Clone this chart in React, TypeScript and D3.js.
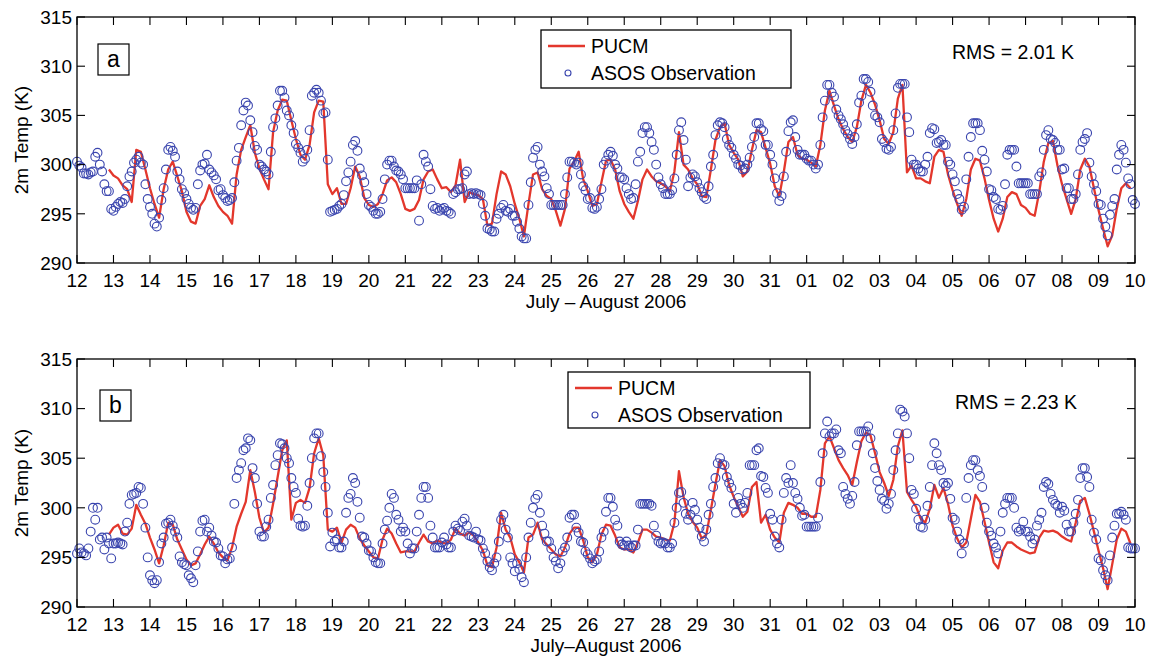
import React from 'react'
import * as d3 from 'd3'

// day tick labels, July 12 .. August 10
const dayLabels = [
  '12', '13', '14', '15', '16', '17', '18', '19', '20', '21',
  '22', '23', '24', '25', '26', '27', '28', '29', '30', '31',
  '01', '02', '03', '04', '05', '06', '07', '08', '09', '10',
]
const tempTicks = [290, 295, 300, 305, 310, 315]

// PUCM: 3-hourly samples from July 12 00 UTC (one row per day)
const pucmA: (number | null)[] = [
  null, null, null, null, null, null, null, 299.5,
  298.9, 298.6, 297.9, 297.5, 296.2, 301.5, 301.3, 299.5,
  297.6, 296.0, 294.6, 297.5, 299.5, 300.3, 298.8, 297.3,
  295.2, 294.2, 294.0, 295.8, 296.5, 297.9, 296.7, 295.8,
  295.2, 294.8, 294.0, 299.0, 301.5, 302.8, 304.0, 301.2,
  299.6, 298.5, 297.5, 303.3, 305.5, 306.6, 306.5, 304.5,
  302.6, 301.0, 300.5, 302.0, 305.3, 306.5, 306.4, 298.0,
  297.0, 297.6, 296.0, 296.0, 297.6, 299.8, 298.8, 296.6,
  295.9, 295.7, 296.0, 297.0, 298.4, 298.7, 298.2, 297.0,
  295.5, 295.3, 295.5, 296.4, 298.5, 299.3, 299.5, 298.5,
  297.6, 297.7, 297.2, 297.9, 300.5, 296.2, 297.2, 297.0,
  296.9, 296.5, 293.8, 294.0, 297.0, 299.3, 299.0, 297.8,
  296.0, 294.5, 292.7, 296.0, 299.0, 299.2, 297.5, 296.8,
  296.5, 295.3, 293.8, 295.5, 299.6, 300.3, 301.3, 298.5,
  297.3, 295.8, 296.0, 298.2, 300.4, 300.5, 299.5, 297.3,
  296.0, 295.2, 294.5, 296.3, 298.5, 299.5, 298.8, 298.3,
  298.1, 297.8, 297.3, 299.3, 303.3, 300.0, 299.5, 298.6,
  298.0, 296.8, 296.7, 299.5, 302.5, 303.8, 304.2, 302.0,
  301.2, 300.5, 298.8, 299.3, 301.5, 303.5, 303.3, 301.7,
  300.1, 297.8, 296.8, 299.3, 302.3, 302.8, 301.0, 300.6,
  300.5, 300.2, 299.8, 302.0, 305.5, 307.5, 306.0, 304.6,
  303.6, 302.8, 302.3, 303.8, 306.5, 308.1, 307.3, 306.1,
  304.5, 302.6, 302.1, 303.3, 306.7, 308.1, 299.2, 299.9,
  298.6, 298.6, 298.3, 298.1, 300.8, 301.5, 301.3, 299.0,
  297.4, 296.0, 294.8, 296.5, 299.5, 300.6, 300.4, 298.6,
  296.4, 294.5, 293.2, 294.5, 296.7, 297.2, 297.0, 295.9,
  295.6, 295.0, 294.8, 297.2, 300.3, 302.2, 302.4, 299.9,
  298.0, 296.5, 295.0, 296.5, 299.5, 300.6, 299.8, 297.6,
  295.4, 293.5, 291.7, 292.8, 295.5, 297.6, 298.1, 297.6,
  null,
]

// ASOS: 90-minute samples from July 12 00 UTC (one row per day)
const asosA: number[] = [
  300.3, 299.9, 299.7, 299.1, 299.1, 299.0, 299.2, 299.3, 300.8, 301.2, 300.0, 299.3, 298.0, 297.3, 297.3, 295.5,
  295.3, 295.7, 296.0, 296.2, 296.1, 296.5, 297.8, 298.8, 299.3, 300.2, 300.5, 300.8, 300.2, 300.0, 298.0, 296.5,
  295.7, 295.0, 294.0, 293.7, 294.6, 296.4, 297.6, 299.5, 301.5, 301.8, 301.4, 300.8, 299.3, 298.5, 297.5, 297.1,
  296.5, 296.0, 295.6, 295.4, 295.6, 298.0, 299.4, 300.0, 300.1, 301.0, 299.5, 299.2, 298.9, 298.5, 297.4, 297.5,
  296.9, 296.6, 296.3, 296.4, 296.6, 298.2, 300.4, 301.7, 304.0, 305.5, 306.3, 306.0, 304.5, 303.3, 301.9, 301.5,
  300.0, 299.8, 299.5, 299.3, 299.0, 301.3, 303.8, 304.7, 306.0, 307.5, 307.5, 306.8, 305.5, 305.0, 304.0, 303.2,
  302.1, 301.7, 301.2, 300.3, 300.6, 301.5, 303.5, 307.0, 307.3, 307.6, 307.3, 306.5, 305.2, 305.3, 300.5, 295.2,
  295.3, 295.4, 295.5, 295.8, 296.0, 296.9, 298.3, 299.2, 300.3, 302.0, 302.4, 301.4, 299.6, 298.9, 298.2, 297.0,
  295.9, 295.7, 295.3, 295.0, 295.0, 295.2, 296.5, 298.5, 300.0, 300.4, 300.4, 299.8, 299.4, 299.3, 299.0, 298.5,
  297.6, 297.6, 297.6, 297.6, 297.6, 298.4, 294.3, 298.0, 301.0, 300.3, 299.8, 297.5, 295.8, 295.5, 295.6, 295.3,
  295.5, 295.6, 295.3, 295.2, 295.0, 297.0, 297.2, 297.5, 297.5, 297.6, 299.0, 299.3, 297.0, 297.1, 297.0, 297.1,
  297.0, 296.9, 296.0, 294.8, 293.5, 293.4, 293.2, 293.2, 294.5, 295.0, 295.6, 295.9, 295.3, 295.2, 295.5, 294.8,
  294.8, 294.2, 293.5, 292.7, 292.5, 292.5, 295.9, 298.2, 300.7, 301.5, 301.8, 300.0, 299.3, 298.8, 297.6, 297.0,
  295.9, 295.9, 295.9, 295.9, 295.9, 295.9, 297.0, 298.7, 300.3, 300.3, 300.2, 300.0, 300.2, 299.0, 297.8, 297.4,
  296.5, 296.6, 295.6, 295.5, 295.7, 296.5, 297.5, 300.0, 300.4, 301.0, 301.3, 300.9, 300.0, 299.6, 298.7, 298.7,
  298.5, 297.6, 297.0, 296.5, 296.6, 298.0, 300.3, 301.3, 303.2, 303.8, 303.8, 303.2, 302.3, 301.5, 300.0, 298.7,
  298.0, 297.6, 297.0, 297.0, 297.0, 297.4, 298.6, 301.0, 303.5, 304.3, 302.5, 300.5, 297.8, 298.7, 299.0, 298.8,
  298.2, 297.6, 297.2, 296.7, 296.5, 297.8, 299.8, 301.0, 303.0, 304.0, 304.3, 304.2, 303.8, 302.6, 302.0, 301.7,
  301.0, 300.6, 300.0, 299.9, 299.5, 299.6, 300.0, 300.7, 301.8, 302.8, 304.2, 304.2, 303.6, 303.4, 302.0, 302.0,
  301.0, 300.0, 298.6, 297.1, 296.3, 296.8, 298.8, 301.3, 303.4, 304.3, 304.5, 302.8, 301.5, 301.0, 301.0, 301.0,
  300.6, 300.4, 300.4, 300.0, 299.6, 300.0, 302.0, 304.8, 306.5, 308.1, 308.1, 307.3, 306.9, 305.6, 305.0, 304.6,
  304.1, 303.5, 303.1, 302.6, 302.1, 302.8, 304.1, 306.3, 307.0, 308.7, 308.7, 308.4, 307.4, 306.0, 305.0, 304.8,
  304.3, 302.6, 302.3, 301.6, 301.5, 301.8, 303.5, 305.2, 307.8, 308.2, 308.2, 308.2, 304.8, 303.3, 300.5, 300.0,
  300.0, 299.6, 299.3, 299.3, 300.0, 300.8, 303.2, 303.7, 303.6, 302.2, 302.3, 302.5, 302.0, 302.0, 300.3, 300.0,
  299.0, 298.3, 297.0, 296.5, 295.4, 295.7, 298.5, 300.8, 302.8, 304.2, 304.2, 304.2, 303.5, 301.4, 300.5, 299.3,
  297.5, 297.4, 296.7, 296.5, 295.5, 295.4, 295.8, 298.0, 301.0, 301.5, 301.5, 301.5, 299.8, 298.1, 298.1, 298.1,
  298.1, 298.1, 297.0, 297.0, 297.0, 297.0, 298.8, 299.2, 301.5, 303.0, 303.5, 302.6, 302.5, 302.2, 301.5, 301.5,
  299.5, 299.6, 297.6, 297.6, 296.5, 296.5, 297.0, 299.0, 301.5, 302.3, 302.6, 303.2, 300.2, 298.8, 298.0, 297.3,
  296.0, 295.9, 294.5, 293.7, 292.8, 294.9, 295.8, 296.5, 299.5, 301.0, 302.0, 301.5, 300.2, 298.6, 298.0, 296.4,
  296.0,
]

const pucmB: (number | null)[] = [
  null, null, null, null, null, null, null, 297.3,
  298.0, 298.3, 297.4, 297.3, 297.9, 300.3, 299.3, 298.4,
  297.0, 295.8, 294.4, 296.2, 298.5, 298.3, 296.8, 295.8,
  294.8, 294.2, 294.4, 295.3, 296.3, 297.1, 296.4, 295.5,
  295.0, 294.7, 296.0, 298.1, 299.4, 300.6, 303.8, 301.6,
  299.0, 297.5, 298.0, 300.4, 303.1, 305.8, 306.8, 298.8,
  300.5, 300.8, 300.5, 302.0, 305.5, 307.0, 305.3, 297.8,
  297.6, 298.0, 296.5, 297.8, 298.3, 298.0, 296.9, 296.2,
  295.6, 295.0, 294.9, 296.8, 297.9, 297.4, 296.4, 295.5,
  295.6, 295.6, 295.6, 296.5, 297.3, 296.6, 296.4, 296.7,
  296.5, 296.4, 296.8, 297.9, 297.4, 297.2, 297.5, 297.2,
  296.5, 295.7, 294.2, 294.0, 296.0, 299.5, 297.8, 297.0,
  295.3, 294.5, 293.5, 297.0, 297.3, 298.5, 296.8, 296.3,
  295.8, 295.3, 295.1, 296.0, 297.4, 298.0, 298.0, 296.7,
  295.0, 294.5, 295.3, 297.3, 298.3, 298.2, 297.2, 296.0,
  295.8, 295.8, 295.5, 296.5, 297.8, 297.8, 297.5, 297.1,
  297.0, 296.8, 296.7, 298.5, 303.7, 301.1, 299.4, 298.6,
  298.0, 296.9, 297.3, 299.8, 302.4, 304.8, 304.2, 302.3,
  301.1, 300.1, 299.1, 299.6, 302.1, 302.6, 298.5, 299.3,
  297.8, 297.0, 296.5, 299.5, 300.5, 300.3, 300.0, 299.4,
  299.4, 299.1, 299.1, 301.8, 306.5, 307.2, 306.0, 304.8,
  304.0, 303.3, 302.3, 304.6, 306.7, 307.6, 307.3, 305.5,
  303.6, 302.5, 301.2, 302.8, 306.2, 307.8, 301.6, 300.8,
  300.1, 298.9, 298.5, 299.9, 302.3, 301.0, 302.0, 300.4,
  298.2, 296.9, 296.0, 296.5, 298.9, 301.3, 300.6, 298.6,
  296.5, 294.5, 293.9, 295.7, 296.5, 296.5, 296.1, 295.8,
  295.6, 295.4, 295.5, 297.0, 297.7, 297.6, 297.7, 297.5,
  297.1, 296.8, 296.6, 298.5, 300.7, 301.0, 299.4, 297.6,
  295.7, 293.9, 291.8, 294.3, 296.8, 297.9, 297.6, 296.4,
  null,
]

const asosB: number[] = [
  295.4, 295.9, 295.5, 295.4, 295.2, 295.9, 297.6, 300.0, 298.8, 300.0, 296.8, 297.0, 295.8, 297.0, 296.4, 294.9,
  296.4, 296.4, 296.5, 296.4, 296.3, 297.6, 298.5, 300.4, 301.3, 301.4, 301.5, 302.1, 302.0, 300.4, 298.0, 295.0,
  293.2, 292.7, 292.4, 292.7, 294.5, 296.4, 297.0, 298.4, 298.5, 298.8, 298.2, 297.6, 297.0, 295.1, 294.5, 294.3,
  294.2, 293.2, 292.9, 292.5, 294.2, 295.6, 297.6, 298.7, 298.8, 297.6, 298.0, 297.2, 296.6, 296.5, 295.9, 295.2,
  295.1, 294.4, 294.8, 294.9, 296.0, 300.4, 303.0, 303.8, 304.5, 305.8, 306.0, 307.0, 306.8, 304.0, 303.0, 300.4,
  297.6, 297.1, 297.1, 298.1, 298.8, 301.0, 302.3, 304.3, 305.3, 306.5, 306.4, 306.0, 305.0, 304.5, 303.0, 302.1,
  301.5, 298.9, 298.2, 298.1, 298.2, 300.2, 302.5, 305.0, 307.0, 307.5, 307.5, 305.2, 303.6, 302.1, 299.5, 296.1,
  297.5, 296.6, 296.8, 296.0, 296.0, 296.6, 299.5, 301.0, 301.4, 303.0, 302.5, 300.6, 299.0, 297.1, 297.0, 296.4,
  295.7, 295.6, 295.0, 294.5, 294.4, 294.4, 296.4, 297.8, 298.7, 300.0, 301.4, 301.0, 299.3, 298.8, 297.6, 298.0,
  297.6, 296.4, 295.4, 295.9, 295.9, 297.6, 299.3, 301.0, 302.1, 302.1, 301.0, 298.2, 297.0, 296.0, 296.0, 296.0,
  296.5, 297.0, 296.3, 296.0, 296.0, 297.6, 298.2, 297.9, 297.7, 298.6, 298.9, 298.2, 297.2, 297.1, 297.0, 297.6,
  296.8, 296.7, 295.9, 295.4, 294.6, 294.0, 293.7, 294.4, 295.0, 296.6, 298.8, 299.3, 297.8, 297.0, 295.0, 294.4,
  293.6, 294.4, 293.8, 293.0, 292.5, 295.0, 297.0, 298.5, 300.0, 300.9, 301.3, 299.5, 298.2, 297.4, 296.6, 296.6,
  295.9, 295.0, 294.6, 293.9, 294.4, 295.6, 296.0, 297.0, 299.0, 299.3, 299.3, 298.0, 297.5, 296.6, 296.5, 295.6,
  295.3, 294.9, 294.4, 294.6, 294.8, 295.6, 297.0, 297.6, 299.6, 301.0, 301.0, 300.1, 298.8, 298.2, 296.6, 296.3,
  296.2, 296.6, 296.2, 296.0, 296.2, 296.2, 297.8, 300.4, 300.4, 300.4, 300.4, 300.4, 300.2, 298.2, 297.2, 296.6,
  296.4, 296.5, 296.4, 296.0, 296.0, 296.4, 298.5, 300.0, 301.5, 301.6, 300.5, 299.4, 298.8, 299.3, 300.5, 299.8,
  298.8, 298.0, 297.1, 296.6, 297.8, 299.3, 300.4, 302.1, 303.0, 304.5, 305.0, 304.4, 304.3, 303.1, 302.5, 302.0,
  300.4, 299.5, 301.0, 300.4, 300.0, 300.5, 301.5, 304.3, 304.3, 304.3, 305.8, 306.0, 303.2, 303.1, 302.0, 301.5,
  299.4, 298.8, 297.1, 296.4, 296.0, 298.8, 301.5, 303.0, 302.5, 304.3, 302.5, 301.5, 300.9, 300.0, 299.2, 299.3,
  298.1, 298.1, 298.1, 298.1, 298.1, 299.0, 302.6, 305.5, 307.5, 308.7, 307.2, 307.5, 307.5, 307.9, 305.8, 305.5,
  302.1, 301.4, 300.9, 300.4, 301.2, 302.6, 306.3, 307.7, 307.7, 307.7, 307.7, 308.2, 307.0, 305.5, 304.0, 302.7,
  301.8, 300.9, 300.7, 299.9, 300.4, 301.4, 303.8, 305.8, 307.5, 309.9, 309.7, 309.2, 307.5, 305.0, 301.8, 301.4,
  299.9, 298.8, 298.1, 298.0, 298.8, 300.2, 302.1, 304.3, 306.5, 305.5, 304.3, 303.8, 302.5, 302.2, 302.5, 300.9,
  299.0, 298.8, 297.6, 296.8, 295.4, 296.4, 301.0, 303.0, 304.3, 304.8, 304.8, 303.8, 303.2, 302.1, 300.0, 298.5,
  297.6, 297.2, 296.4, 296.0, 295.4, 297.6, 299.5, 300.4, 301.0, 301.0, 301.0, 300.0, 298.0, 297.6, 297.8, 298.6,
  297.6, 297.6, 297.1, 296.4, 296.8, 298.2, 298.8, 299.5, 302.1, 302.6, 302.4, 301.4, 300.8, 300.4, 300.2, 299.5,
  300.1, 299.7, 298.3, 297.6, 297.6, 298.5, 299.4, 300.8, 303.0, 304.0, 304.0, 303.1, 302.1, 298.8, 297.5, 296.8,
  294.9, 294.7, 293.7, 293.2, 292.7, 295.2, 297.0, 298.2, 299.4, 299.4, 299.6, 299.3, 298.8, 296.0, 295.9, 295.9,
  295.9,
]

const FONT = '"Liberation Sans", Arial, Helvetica, sans-serif'
const RED = '#e3372c'
const BLUE = '#3a45ae'
const X0 = 77
const X1 = 1135

function Panel(props: any) {
  const { top, bottom, model, obs, tag, tagX, tagY, rms, rmsX, rmsY, xLabel, xLabelY, leg } = props
  const x = d3.scaleLinear().domain([12, 41]).range([X0, X1])
  const y = d3.scaleLinear().domain([290, 315]).range([bottom, top])
  const line = d3.line<number | null>()
    .defined(d => d != null)
    .x((d, i) => x(12 + i / 8))
    .y(d => y(d as number))
  const days = d3.range(12, 42)
  const tk = 8

  return (
    <g fontFamily={FONT}>
      <path d={line(model) || ''} fill="none" stroke={RED} strokeWidth={2.3} strokeLinejoin="round" />
      {obs.map((v: number, i: number) => (
        <circle key={i} cx={x(12 + i / 16)} cy={y(v)} r={4.4} fill="none" stroke={BLUE} strokeWidth={1.1} />
      ))}

      {/* frame and ticks */}
      <rect x={X0} y={top} width={X1 - X0} height={bottom - top} fill="none" stroke="#000" strokeWidth={1.3} />
      {days.map((d, i) => (
        <g key={d}>
          <line x1={x(d)} x2={x(d)} y1={bottom} y2={bottom - tk} stroke="#000" strokeWidth={1.1} />
          <line x1={x(d)} x2={x(d)} y1={top} y2={top + tk} stroke="#000" strokeWidth={1.1} />
          <text x={x(d)} y={bottom + 24} fontSize={19} textAnchor="middle">{dayLabels[i]}</text>
        </g>
      ))}
      {tempTicks.map(v => (
        <g key={v}>
          <line x1={X0} x2={X0 + tk} y1={y(v)} y2={y(v)} stroke="#000" strokeWidth={1.1} />
          <line x1={X1} x2={X1 - tk} y1={y(v)} y2={y(v)} stroke="#000" strokeWidth={1.1} />
          <text x={X0 - 5} y={y(v)} dy="0.36em" fontSize={19} textAnchor="end">{v}</text>
        </g>
      ))}

      <text transform={`translate(21, ${(top + bottom) / 2}) rotate(-90)`} fontSize={19}
        textAnchor="middle" dy="0.36em">2m Temp (K)</text>
      <text x={606} y={xLabelY} fontSize={19} textAnchor="middle">{xLabel}</text>

      {/* panel tag */}
      <rect x={tagX} y={tagY} width={31} height={31} fill="#fff" stroke="#000" strokeWidth={1.2} />
      <text x={tagX + 15.5} y={tagY + 15.5} dy="0.34em" fontSize={23} textAnchor="middle">{tag}</text>

      <text x={rmsX} y={rmsY} fontSize={19.5}>{rms}</text>

      {/* legend */}
      <rect x={leg.x} y={leg.y} width={leg.w} height={leg.h} fill="#fff" stroke="#000" strokeWidth={1.3} />
      <line x1={leg.x + 7} x2={leg.x + 44} y1={leg.y + 16} y2={leg.y + 16} stroke={RED} strokeWidth={2.3} />
      <text x={leg.x + 50} y={leg.y + 23} fontSize={19.5}>PUCM</text>
      <circle cx={leg.x + 27} cy={leg.y + 43} r={3} fill="none" stroke={BLUE} strokeWidth={1.1} />
      <text x={leg.x + 50} y={leg.y + 50} fontSize={19.5}>ASOS Observation</text>
    </g>
  )
}

export default function App() {
  return (
    <div style={{ position: 'absolute', left: 0, top: 0, width: 1151, height: 661, background: '#fff' }}>
      <svg width={1151} height={661} style={{ display: 'block' }}>
        <Panel top={17} bottom={263} model={pucmA} obs={asosA} tag="a" tagX={98} tagY={44}
          rms="RMS = 2.01 K" rmsX={952} rmsY={59}
          xLabel="July – August 2006" xLabelY={308}
          leg={{ x: 541, y: 30, w: 250, h: 58 }} />
        <Panel top={359} bottom={607} model={pucmB} obs={asosB} tag="b" tagX={100} tagY={390}
          rms="RMS = 2.23 K" rmsX={955} rmsY={409}
          xLabel="July–August 2006" xLabelY={652}
          leg={{ x: 568, y: 372, w: 242, h: 56 }} />
      </svg>
    </div>
  )
}
